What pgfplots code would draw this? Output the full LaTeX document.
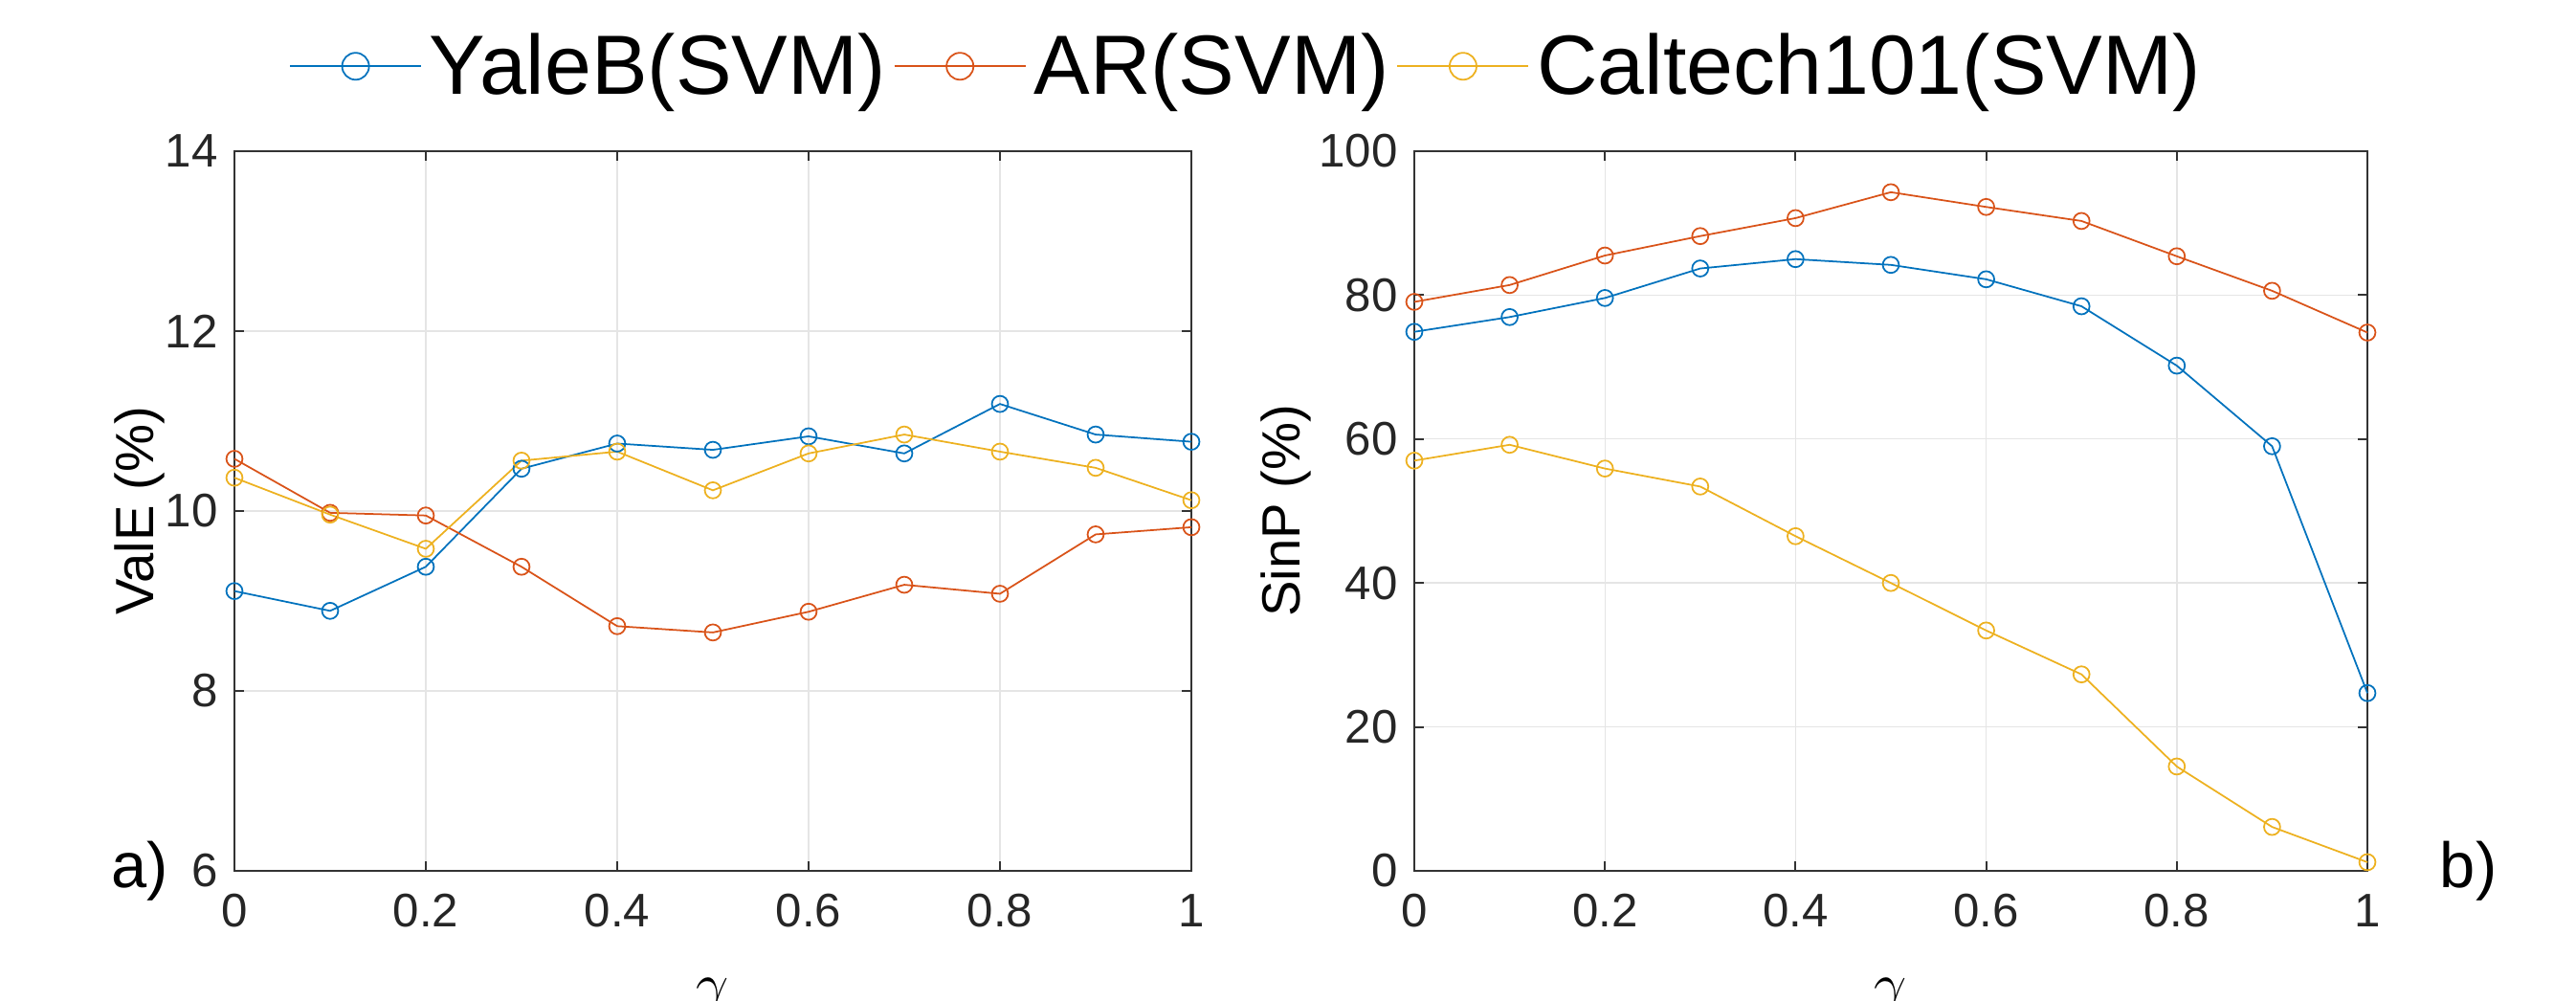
\documentclass[border=0pt]{standalone}
\usepackage{fontspec}
\setmainfont{Liberation Sans}
\usepackage{pgfplots}
\pgfplotsset{compat=1.18}

\definecolor{mblue}{rgb}{0,0.447,0.741}
\definecolor{morange}{rgb}{0.85,0.325,0.098}
\definecolor{myellow}{rgb}{0.929,0.694,0.125}

\pgfplotsset{
  mstyle/.style={
    scale only axis, height=7.52cm,
    xmin=0, xmax=1,
    xtick={0,0.2,0.4,0.6,0.8,1},
    xticklabels={0,0.2,0.4,0.6,0.8,1},
    grid=major,
    major grid style={color=black!10, line width=0.4pt},
    axis line style={color=black!80, line width=0.6pt},
    tick style={color=black!80, line width=0.6pt},
    tick align=inside, major tick length=0.1cm,
    ticklabel style={font=\fontsize{14}{14}\selectfont, color=black!85},
    xticklabel style={yshift=-0.12cm},
    yticklabel style={xshift=-0.05cm},
    xlabel={$\gamma$},
    xlabel style={at={(axis description cs:0.5,-0.148)}, anchor=north, inner sep=0pt, font=\fontsize{18}{18}\selectfont},
    label style={font=\fontsize{16}{16}\selectfont},
    clip=false,
    every axis plot/.append style={line width=0.5pt, mark=o, mark size=2.4pt},
    legend image code/.code={
      \draw[mark repeat=2, mark phase=2, #1, mark size=4pt]
        plot coordinates {(0cm,0cm) (0.685cm,0cm) (1.37cm,0cm)};
    },
  }
}

\begin{document}
\begin{tikzpicture}
\useasboundingbox (-2.45,-1.36) rectangle (24.47,9.10);

% a) ValE
\begin{axis}[mstyle, width=10.0cm, at={(0cm,0cm)}, anchor=south west,
  ymin=6, ymax=14, ytick={6,8,10,12,14}, yticklabels={6,8,10,12,14},
  ylabel={ValE (\%)},
  ylabel style={at={(axis description cs:-0.099,0.5)}, anchor=center},
  legend style={at={(1.06,1.118)}, anchor=center, draw=none, fill=none,
    legend columns=3, font=\fontsize{25}{25}\selectfont,
    column sep=0pt, inner sep=0pt,
    nodes={inner xsep=0.08cm}},
]
\addplot[color=mblue] coordinates {
  (0,9.11) (0.1,8.89) (0.2,9.38) (0.3,10.47) (0.4,10.75) (0.5,10.68)
  (0.6,10.83) (0.7,10.64) (0.8,11.19) (0.9,10.85) (1,10.77)};
\addlegendentry{YaleB(SVM)}
\addplot[color=morange] coordinates {
  (0,10.58) (0.1,9.98) (0.2,9.95) (0.3,9.38) (0.4,8.72) (0.5,8.65)
  (0.6,8.88) (0.7,9.18) (0.8,9.08) (0.9,9.74) (1,9.82)};
\addlegendentry{AR(SVM)}
\addplot[color=myellow] coordinates {
  (0,10.37) (0.1,9.96) (0.2,9.58) (0.3,10.56) (0.4,10.66) (0.5,10.23)
  (0.6,10.64) (0.7,10.85) (0.8,10.66) (0.9,10.48) (1,10.12)};
\addlegendentry{Caltech101(SVM)}
\node[font=\fontsize{19}{19}\selectfont] at (axis description cs:-0.099,0) {a)};
\end{axis}

% b) SinP
\begin{axis}[mstyle, width=9.96cm, at={(12.33cm,0cm)}, anchor=south west,
  ymin=0, ymax=100, ytick={0,20,40,60,80,100}, yticklabels={0,20,40,60,80,100},
  ylabel={SinP (\%)},
  ylabel style={at={(axis description cs:-0.135,0.5)}, anchor=center},
]
\addplot[color=mblue] coordinates {
  (0,74.9) (0.1,76.95) (0.2,79.6) (0.3,83.7) (0.4,85.0) (0.5,84.2)
  (0.6,82.2) (0.7,78.45) (0.8,70.2) (0.9,59.0) (1,24.7)};
\addplot[color=morange] coordinates {
  (0,79.06) (0.1,81.4) (0.2,85.5) (0.3,88.2) (0.4,90.7) (0.5,94.3)
  (0.6,92.25) (0.7,90.3) (0.8,85.4) (0.9,80.6) (1,74.8)};
\addplot[color=myellow] coordinates {
  (0,57.0) (0.1,59.2) (0.2,55.9) (0.3,53.4) (0.4,46.5) (0.5,40.0)
  (0.6,33.4) (0.7,27.3) (0.8,14.5) (0.9,6.1) (1,1.2)};
\node[font=\fontsize{19}{19}\selectfont] at (axis description cs:1.106,0) {b)};
\end{axis}
\end{tikzpicture}
\end{document}
